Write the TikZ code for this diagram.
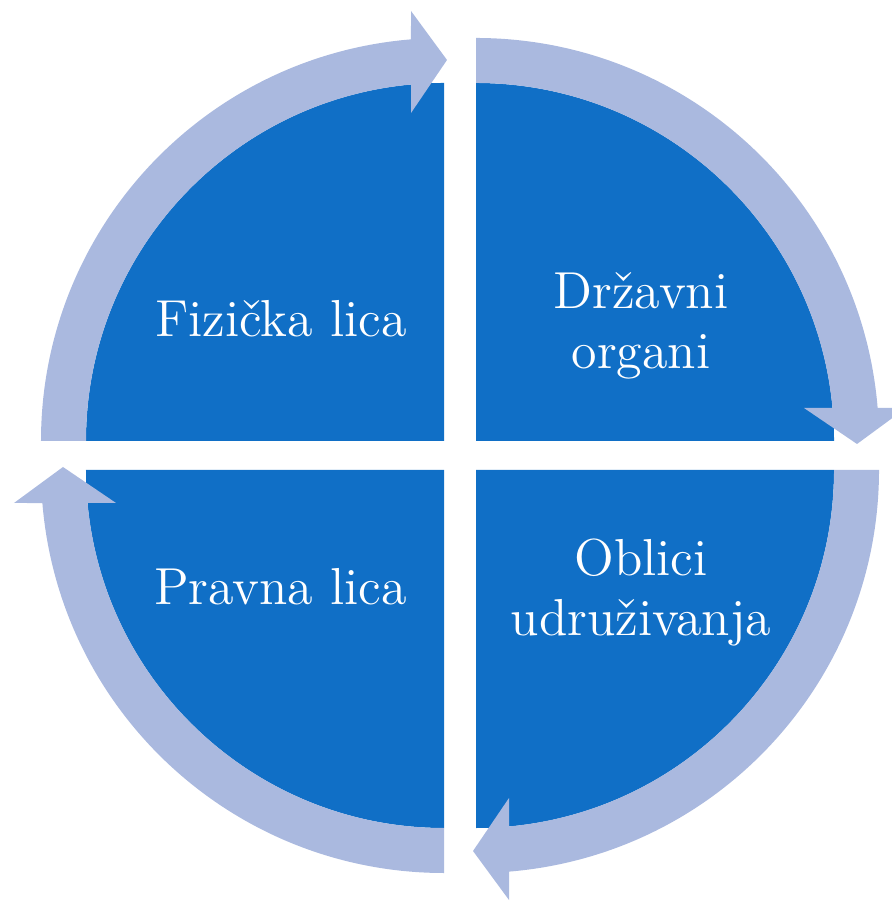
\documentclass[tikz,border=0pt]{standalone}
\usepackage{tikz}

\definecolor{quadblue}{RGB}{16,111,198}
\definecolor{ringblue}{RGB}{170,185,223}

\begin{document}
\begin{tikzpicture}[
  quad/.style={fill=quadblue},
  ring/.style={fill=ringblue},
  lbl/.style={text=white, align=center, inner sep=0pt, font=\fontsize{14.8}{17.1}\selectfont}
]
\useasboundingbox (-4.60, -4.465) rectangle (4.31, 4.555);

\fill [quad] (-0.16, 0.145) -- (-3.74, 0.145) arc [start angle=180, end angle=90, radius=3.58] -- cycle;
\fill [quad] (0.16, 0.145) -- (0.16, 3.725) arc [start angle=90, end angle=0, radius=3.58] -- cycle;
\fill [quad] (0.16, -0.145) -- (3.74, -0.145) arc [start angle=0, end angle=-90, radius=3.58] -- cycle;
\fill [quad] (-0.16, -0.145) -- (-0.16, -3.725) arc [start angle=270, end angle=180, radius=3.58] -- cycle;

\fill [ring, shift={(-0.16, 0.145)}] (180:3.58) -- (180:4.03) arc [start angle=180, end angle=94.7, radius=4.03]
  -- (-0.33, 4.30) -- (0.03, 3.81) -- (-0.33, 3.28) -- (95.29:3.58) arc [start angle=95.29, end angle=180, radius=3.58] -- cycle;
\fill [ring, shift={(0.16, 0.145)}, rotate=-90] (180:3.58) -- (180:4.03) arc [start angle=180, end angle=94.7, radius=4.03]
  -- (-0.33, 4.30) -- (0.03, 3.81) -- (-0.33, 3.28) -- (95.29:3.58) arc [start angle=95.29, end angle=180, radius=3.58] -- cycle;
\fill [ring, shift={(0.16, -0.145)}, rotate=180] (180:3.58) -- (180:4.03) arc [start angle=180, end angle=94.7, radius=4.03]
  -- (-0.33, 4.30) -- (0.03, 3.81) -- (-0.33, 3.28) -- (95.29:3.58) arc [start angle=95.29, end angle=180, radius=3.58] -- cycle;
\fill [ring, shift={(-0.16, -0.145)}, rotate=90] (180:3.58) -- (180:4.03) arc [start angle=180, end angle=94.7, radius=4.03]
  -- (-0.33, 4.30) -- (0.03, 3.81) -- (-0.33, 3.28) -- (95.29:3.58) arc [start angle=95.29, end angle=180, radius=3.58] -- cycle;

\node [lbl, anchor=base] (fizicka) at (-1.79, 1.185) {Fizička lica};
\node [lbl] (drzavni) at (1.81, 1.299) {Državni\\organi};
\node [lbl] (oblici) at (1.81, -1.372) {Oblici\\udruživanja};
\node [lbl, anchor=base] (pravna) at (-1.795, -1.495) {Pravna lica};
\end{tikzpicture}
\end{document}
